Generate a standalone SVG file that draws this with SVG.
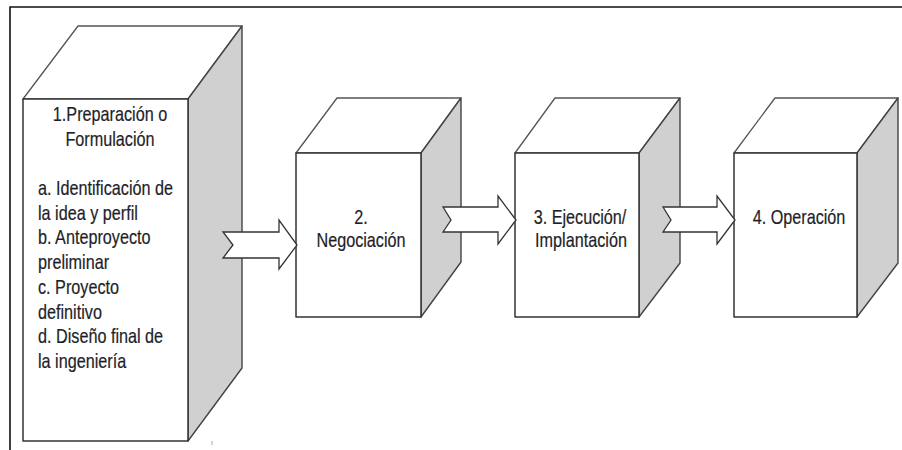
<svg xmlns="http://www.w3.org/2000/svg" width="902" height="450" viewBox="0 0 902 450">
<style>
.front{fill:#ffffff;stroke:#333333;stroke-width:1.5;stroke-linejoin:round}
.top{fill:#ffffff;stroke:#555555;stroke-width:1.3;stroke-linejoin:round}
.side{fill:#d0d0d0;stroke:#444444;stroke-width:1.4;stroke-linejoin:round}
.arrow{fill:#ffffff;stroke:#333333;stroke-width:1.3;stroke-linejoin:miter}
.t{font-family:"Liberation Sans Narrow","Liberation Sans",Arial,sans-serif;font-size:20.5px;fill:#1e1e28;stroke:#1e1e28;stroke-width:0.2}
.c{text-anchor:middle}
.frame{stroke:#111111;stroke-width:1.6;fill:none}
</style>
<rect width="902" height="450" fill="#ffffff"/>
<path class="frame" d="M10,450 L10,7 L902,7"/>
<g id="node1">
<polygon class="top" points="23,99 78,26 242,26 188,99"/>
<polygon class="side" points="188,99 242,26 242,368 188,441"/>
<rect class="front" x="23" y="99" width="165" height="342"/>
<g transform="scale(0.79 1)">
<text class="t c" x="139.24" y="121">1.Preparación o</text>
<text class="t c" x="139.24" y="145.7">Formulación</text>
<text class="t" x="48.1" y="195.5">a. Identificación de</text>
<text class="t" x="48.1" y="220">la idea y perfil</text>
<text class="t" x="48.1" y="244.5">b. Anteproyecto</text>
<text class="t" x="48.1" y="269.2">preliminar</text>
<text class="t" x="48.1" y="293.9">c. Proyecto</text>
<text class="t" x="48.1" y="318.6">definitivo</text>
<text class="t" x="48.1" y="343.3">d. Diseño final de</text>
<text class="t" x="48.1" y="368">la ingeniería</text>
</g>
</g>
<g id="node2">
<polygon class="top" points="296,153 337,98 461,98 421,153"/>
<polygon class="side" points="421,153 461,98 461,262 421,317"/>
<rect class="front" x="296" y="153" width="125" height="164"/>
<g transform="scale(0.79 1)">
<text class="t c" x="456.96" y="224">2.</text>
<text class="t c" x="456.96" y="247">Negociación</text>
</g>
</g>
<g id="node3">
<polygon class="top" points="515,153 555,98 680,98 639,153"/>
<polygon class="side" points="639,153 680,98 680,263 639,317"/>
<rect class="front" x="515" y="153" width="124" height="164"/>
<g transform="scale(0.79 1)">
<text class="t c" x="734.18" y="224">3. Ejecución/</text>
<text class="t c" x="735.44" y="247">Implantación</text>
</g>
</g>
<g id="node4">
<polygon class="top" points="734,153 775,98 898,98 857,153"/>
<polygon class="side" points="857,153 898,98 898,263 857,317"/>
<rect class="front" x="734" y="153" width="123" height="164"/>
<g transform="scale(0.79 1)">
<text class="t c" x="1011.39" y="224">4. Operación</text>
</g>
</g>
<g id="connectors">
<polygon class="arrow" points="223,232 279,232 279,220 297,245 279,269 279,258 223,258 233,245"/>
<polygon class="arrow" points="443,207 498,207 498,196 516,220 498,244 498,232 443,232 451,220"/>
<polygon class="arrow" points="663,207 717,207 717,196 735,220 717,244 717,232 663,232 671,220"/>
</g>
<rect x="211.5" y="441" width="1" height="4" fill="#7fb0e0"/>
</svg>
